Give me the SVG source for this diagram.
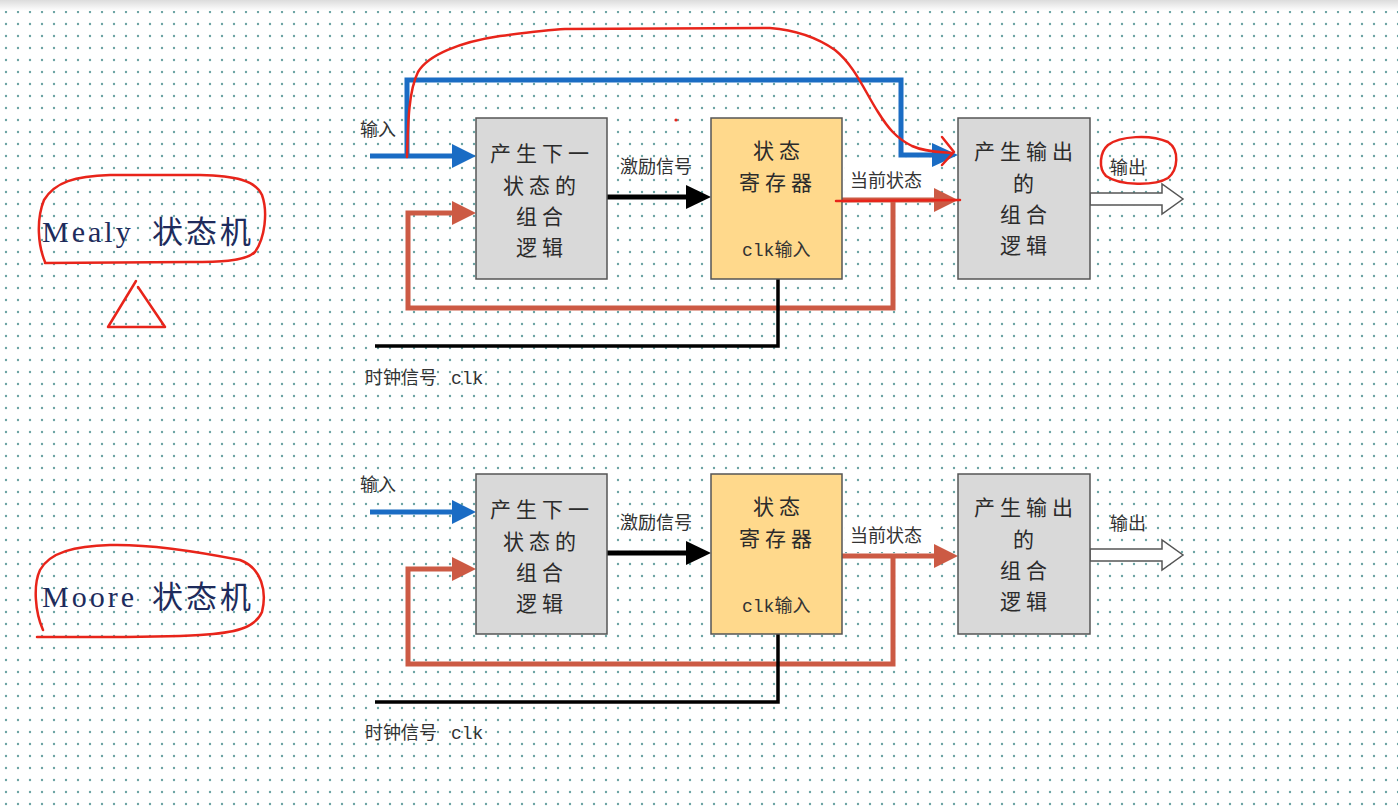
<svg xmlns="http://www.w3.org/2000/svg" width="1398" height="807" viewBox="0 0 1398 807">
<defs>
<pattern id="dots" x="0" y="6" width="12" height="12" patternUnits="userSpaceOnUse">
<circle cx="6" cy="6" r="1.2" fill="#6aa3a3"/>
</pattern>
<linearGradient id="topbar" x1="0" y1="0" x2="0" y2="1">
<stop offset="0" stop-color="#dcdcdc"/>
<stop offset="1" stop-color="#ffffff"/>
</linearGradient>
<style>
.box{stroke:#555;stroke-width:1.5}
.gray{fill:#d9d9d9}
.yel{fill:#ffd98c}
.bt{font-family:"Noto Sans CJK SC","Liberation Sans",sans-serif;font-size:21px;fill:#2b2b2b;letter-spacing:5px}
.yt{font-family:"Noto Sans CJK SC","Liberation Sans",sans-serif;font-size:21px;fill:#2b2b2b;letter-spacing:5px}
.lb{font-family:"Noto Sans CJK SC","Liberation Sans",sans-serif;font-size:18px;fill:#333}
.mono{font-family:"Liberation Mono","Noto Sans CJK SC",monospace}
.title{font-family:"Liberation Serif","Noto Sans CJK SC",serif;font-size:30px;fill:#1e2b5c;letter-spacing:3px}
.cjk{font-family:"Noto Sans CJK SC",sans-serif;font-size:31px;letter-spacing:3px}
.blue{stroke:#1a6cc4;stroke-width:5;fill:none}
.red{stroke:#cc5a44;stroke-width:5;fill:none}
.blk{stroke:#000;stroke-width:5;fill:none}
.clk{stroke:#000;stroke-width:3.5;fill:none}
.hand{stroke:#e8241a;stroke-width:2.5;fill:none;stroke-linecap:round;stroke-linejoin:round}
</style>
</defs>
<rect width="1398" height="807" fill="#ffffff"/>
<rect width="1398" height="807" fill="url(#dots)"/>
<rect width="1398" height="11" fill="url(#topbar)"/>

<!-- label backgrounds -->
<rect x="845" y="166" width="92" height="30" fill="#ffffff"/>
<rect x="845" y="522" width="92" height="30" fill="#ffffff"/>

<g id="connectors">
<!-- Mealy -->
<path class="blue" d="M370,156 H455"/>
<polygon points="452,144 476,156 452,168" fill="#1a6cc4"/>
<path class="blue" d="M407,156 V80 H901 V155 H934"/>
<polygon points="932,143 958,155 932,167" fill="#1a6cc4"/>
<path class="blk" d="M606,197 H688"/>
<polygon points="686,185 711,197 686,209" fill="#000"/>
<path class="red" d="M841,200 H936"/>
<polygon points="934,188 958,200 934,212" fill="#cc5a44"/>
<path class="red" d="M893,200 V308 H408 V213 H455"/>
<polygon points="452,201 476,213 452,225" fill="#cc5a44"/>
<path class="clk" d="M375,346 H778 V279"/>
<path d="M1090,193 H1162 V184 L1183,199 L1162,214 V205 H1090 Z" fill="#ffffff" stroke="#555" stroke-width="1.5"/>
<!-- Moore -->
<path class="blue" d="M370,512 H455"/>
<polygon points="452,500 476,512 452,524" fill="#1a6cc4"/>
<path class="blk" d="M606,553 H688"/>
<polygon points="686,541 711,553 686,565" fill="#000"/>
<path class="red" d="M841,556 H936"/>
<polygon points="934,544 958,556 934,568" fill="#cc5a44"/>
<path class="red" d="M893,556 V664 H408 V569 H455"/>
<polygon points="452,557 476,569 452,581" fill="#cc5a44"/>
<path class="clk" d="M375,702 H778 V634"/>
<path d="M1090,549 H1162 V540 L1183,555 L1162,570 V561 H1090 Z" fill="#ffffff" stroke="#555" stroke-width="1.5"/>
</g>

<!-- Mealy nodes -->
<g id="mealy-next">
<rect class="box gray" x="476" y="118" width="131" height="161"/>
<text class="bt" x="490" y="161">产生下一</text>
<text class="bt" x="503" y="193">状态的</text>
<text class="bt" x="516" y="224">组合</text>
<text class="bt" x="516" y="255">逻辑</text>
</g>
<g id="mealy-reg">
<rect class="box yel" x="711" y="118" width="131" height="161"/>
<text class="yt" x="753" y="158">状态</text>
<text class="yt" x="739" y="190">寄存器</text>
<text class="lb" x="742" y="256"><tspan class="mono">clk</tspan>输入</text>
</g>
<g id="mealy-out">
<rect class="box gray" x="958" y="118" width="132" height="161"/>
<text class="bt" x="974" y="159">产生输出</text>
<text class="bt" x="1013" y="191">的</text>
<text class="bt" x="1000" y="222">组合</text>
<text class="bt" x="1000" y="253">逻辑</text>
</g>
<g id="mealy-labels">
<text class="lb" x="360" y="136">输入</text>
<text class="lb" x="620" y="173">激励信号</text>
<text class="lb" x="850" y="187">当前状态</text>
<text class="lb" x="1110" y="174">输出</text>
<text class="lb" x="365" y="384">时钟信号</text>
<text class="lb mono" x="451" y="384">clk</text>
<text class="title" x="42" y="242">Mealy</text>
<text class="title cjk" x="152" y="243">状态机</text>
</g>

<!-- Moore nodes -->
<g id="moore-next">
<rect class="box gray" x="476" y="474" width="131" height="160"/>
<text class="bt" x="490" y="517">产生下一</text>
<text class="bt" x="503" y="549">状态的</text>
<text class="bt" x="516" y="580">组合</text>
<text class="bt" x="516" y="611">逻辑</text>
</g>
<g id="moore-reg">
<rect class="box yel" x="711" y="474" width="131" height="160"/>
<text class="yt" x="753" y="514">状态</text>
<text class="yt" x="739" y="546">寄存器</text>
<text class="lb" x="742" y="612"><tspan class="mono">clk</tspan>输入</text>
</g>
<g id="moore-out">
<rect class="box gray" x="958" y="474" width="132" height="160"/>
<text class="bt" x="974" y="515">产生输出</text>
<text class="bt" x="1013" y="547">的</text>
<text class="bt" x="1000" y="578">组合</text>
<text class="bt" x="1000" y="609">逻辑</text>
</g>
<g id="moore-labels">
<text class="lb" x="360" y="491">输入</text>
<text class="lb" x="620" y="529">激励信号</text>
<text class="lb" x="850" y="542">当前状态</text>
<text class="lb" x="1110" y="530">输出</text>
<text class="lb" x="365" y="739">时钟信号</text>
<text class="lb mono" x="451" y="739">clk</text>
<text class="title" x="42" y="607">Moore</text>
<text class="title cjk" x="152" y="608">状态机</text>
</g>

<!-- hand-drawn annotations -->
<g id="annotations">
<path class="hand" d="M407,157 C408,120 409,90 418,72 C428,55 460,42 500,36 C530,32 545,30 565,29 L770,28 C795,30 815,36 835,50 C855,66 865,92 878,112 C888,128 896,138 912,146 C925,152 940,152 952,153"/>
<path class="hand" d="M942,137 L954,152 L942,165"/>
<path class="hand" d="M836,201 L960,200"/>
<circle cx="676" cy="120" r="1.6" fill="#e8241a"/>
<path class="hand" d="M1108,145 C1120,136 1150,134 1168,142 C1180,150 1178,170 1168,178 C1155,186 1120,186 1106,176 C1098,168 1100,152 1108,145"/>
<path class="hand" d="M45,262 C38,245 36,220 44,200 C55,182 75,176 110,175 L200,175 C235,176 255,180 262,195 C268,212 265,238 255,252 C245,262 215,262 190,262 L45,263"/>
<path class="hand" d="M136,281 L108,327 L165,327 L138,287"/>
<path class="hand" d="M43,630 C35,612 33,585 40,570 C50,552 75,546 110,545 C150,544 200,552 240,560 C262,568 267,592 262,612 C255,628 235,633 200,635 C150,638 90,637 37,637"/>
</g>
</svg>
